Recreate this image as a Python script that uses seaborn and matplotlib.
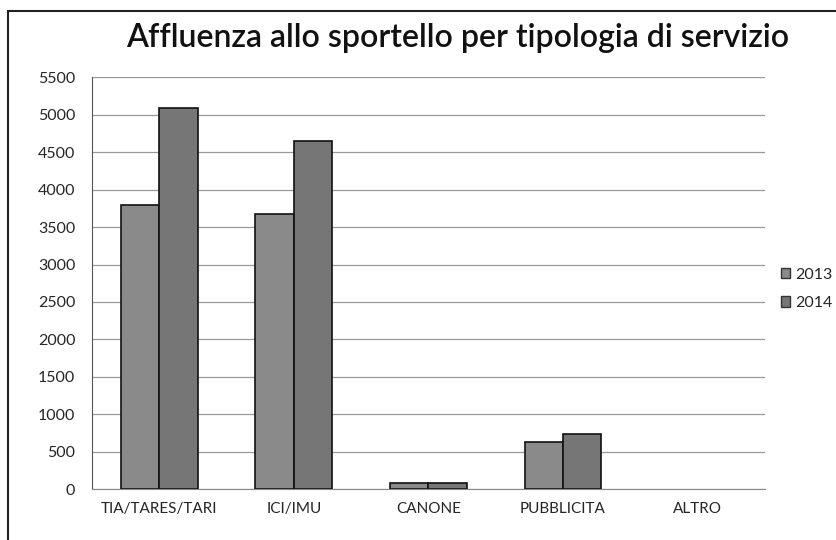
import seaborn as sns
import matplotlib.pyplot as plt
import pandas as pd
from matplotlib.patches import Rectangle, Patch

categories = ['TIA/TARES/TARI', 'ICI/IMU', 'CANONE', 'PUBBLICITA', 'ALTRO']
years = ['2013', '2014']
values_2013 = [3790, 3680, 80, 630, 0]
values_2014 = [5090, 4650, 85, 740, 0]
y_ticks = list(range(0, 5501, 500))

data = pd.DataFrame({
    'categoria': categories * 2,
    'anno': [years[0]] * len(categories) + [years[1]] * len(categories),
    'valore': values_2013 + values_2014,
})

sns.set_style('white')
plt.rcParams['font.family'] = ['Lato', 'DejaVu Sans']

fig = plt.figure(figsize=(8.36, 5.4), dpi=100)
ax = fig.add_axes([0.110, 0.094, 0.805, 0.763])

colors = {'2013': '#8a8a8a', '2014': '#767676'}
sns.barplot(data=data, x='categoria', y='valore', hue='anno', palette=colors,
            width=0.57, edgecolor='#111111', linewidth=1.2, ax=ax, legend=False)

# empty bars (ALTRO) should not leave an edge line on the baseline
for bar in ax.patches:
    if bar.get_height() == 0:
        bar.set_visible(False)

ax.set_ylim(0, 5500)
ax.set_yticks(y_ticks)
ax.set_yticklabels([str(v) for v in y_ticks], fontsize=11.5)
ax.tick_params(axis='x', labelsize=11, length=0, pad=9)
ax.tick_params(axis='y', length=0, pad=12)
ax.set_xlabel('')
ax.set_ylabel('')
ax.yaxis.grid(True, color='#999999', linewidth=0.9)
ax.set_axisbelow(True)
for side in ['top', 'right']:
    ax.spines[side].set_visible(False)
ax.spines['left'].set_color('#555555')
ax.spines['bottom'].set_color('#888888')

fig.text(0.547, 0.93, 'Affluenza allo sportello per tipologia di servizio',
         ha='center', va='center', fontsize=23, fontweight='semibold', color='#111111')

handles = [Patch(facecolor=colors[y], edgecolor='#333333', label=y) for y in years]
fig.legend(handles=handles, loc='center left', bbox_to_anchor=(0.934, 0.465),
           frameon=False, fontsize=11.5, handlelength=0.6, handleheight=0.6,
           handletextpad=0.3, labelspacing=0.9, borderaxespad=0, borderpad=0)

fig.patches.append(Rectangle((0.01, -0.01), 1.2, 0.99, transform=fig.transFigure,
                             fill=False, edgecolor='#222222', linewidth=1.5))

fig.savefig('out.png', dpi=100)
plt.close()
